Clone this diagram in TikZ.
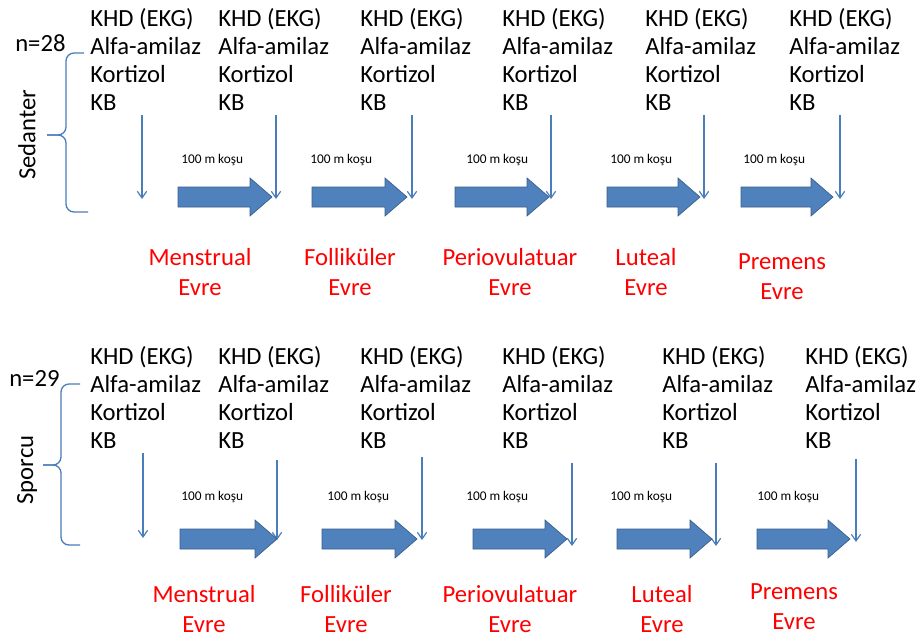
\documentclass[tikz,border=0pt]{standalone}
\usepackage{fontspec}
\setmainfont{Carlito}
\usetikzlibrary{arrows.meta}
\definecolor{blokmavi}{HTML}{4F81BD}
\definecolor{blokkenar}{HTML}{385D8A}
\definecolor{okmavi}{HTML}{4A7EBB}

\begin{document}
\begin{tikzpicture}[x=0.75pt, y=-0.75pt,
    olcum/.style={anchor=base west, align=left, inner sep=0pt, font=\fontsize{18.5}{20.8}\selectfont},
    evre/.style={anchor=base, align=center, inner sep=0pt, text=red, font=\fontsize{18.5}{21.8}\selectfont},
    kosu/.style={anchor=base west, inner sep=0pt, font=\fontsize{10}{12}\selectfont},
    grup/.style={inner sep=0pt, font=\fontsize{18.5}{21}\selectfont},
    ince/.style={okmavi, line width=0.9pt, -{Straight Barb[length=5pt, width=7pt]}},
    kume/.style={okmavi, line width=1pt, rounded corners=6pt},
    blok/.style={fill=blokmavi, draw=blokkenar, line width=0.5pt}]
\useasboundingbox (0,0) rectangle (921,640);

% Sedanter
\node[grup, anchor=base west] (n28) at (15,51) {n=28};
\node[grup, rotate=90] (sedanter) at (27,135) {Sedanter};
\draw[kume] (84,53) -- (66,53) -- (66,135) -- (47,135);
\draw[kume] (47,135) -- (66,135) -- (66,212) -- (88,212);
\foreach \x [count=\i] in {90,218,360,502,645,789}
  \node[olcum] (sed\i) at (\x,110) {KHD (EKG)\\Alfa-amilaz\\Kortizol\\KB};
\foreach \x in {142,276,412,551,704,840}
  \draw[ince] (\x,115) -- (\x,199);
\foreach \a/\b in {178/272, 312/407, 455/549, 607/700, 741/833}
  \draw[blok] (\a,187) -- (\b-22,187) -- (\b-22,178) -- (\b,197) -- (\b-22,216) -- (\b-22,207) -- (\a,207) -- cycle;
\foreach \x [count=\i] in {181,310,466,610,743}
  \node[kosu] (sedkosu\i) at (\x,163) {100 m koşu};
\foreach \x/\y/\t [count=\i] in {200/295/Menstrual, 350/295/Folliküler, 510/295/Periovulatuar, 646/295/Luteal, 782/299/Premens}
  \node[evre] (sedevre\i) at (\x,\y) {\t\\Evre};

% Sporcu
\node[grup, anchor=base west] (n29) at (9,386) {n=29};
\node[grup, rotate=90] (sporcu) at (27,470) {Sporcu};
\draw[kume] (80,384) -- (61,384) -- (61,465) -- (43,465);
\draw[kume] (43,465) -- (61,465) -- (61,545) -- (80,545);
\foreach \x [count=\i] in {90,218,360,502,662,805}
  \node[olcum] (spr\i) at (\x,448) {KHD (EKG)\\Alfa-amilaz\\Kortizol\\KB};
\foreach \x/\a/\b in {143/453/538, 277/460/540, 422/457/540, 572/463/546, 716/463/546, 856/459/542}
  \draw[ince] (\x,\a) -- (\x,\b);
\foreach \a/\b in {180/277, 322/417, 473/567, 617/712, 757/850}
  \draw[blok] (\a,529) -- (\b-22,529) -- (\b-22,520) -- (\b,539) -- (\b-22,558) -- (\b-22,549) -- (\a,549) -- cycle;
\foreach \x [count=\i] in {181,327,466,610,757}
  \node[kosu] (sprkosu\i) at (\x,500) {100 m koşu};
\foreach \x/\y/\t [count=\i] in {204/632/Menstrual, 346/632/Folliküler, 510/632/Periovulatuar, 662/632/Luteal, 794/629/Premens}
  \node[evre] (sprevre\i) at (\x,\y) {\t\\Evre};
\end{tikzpicture}
\end{document}
